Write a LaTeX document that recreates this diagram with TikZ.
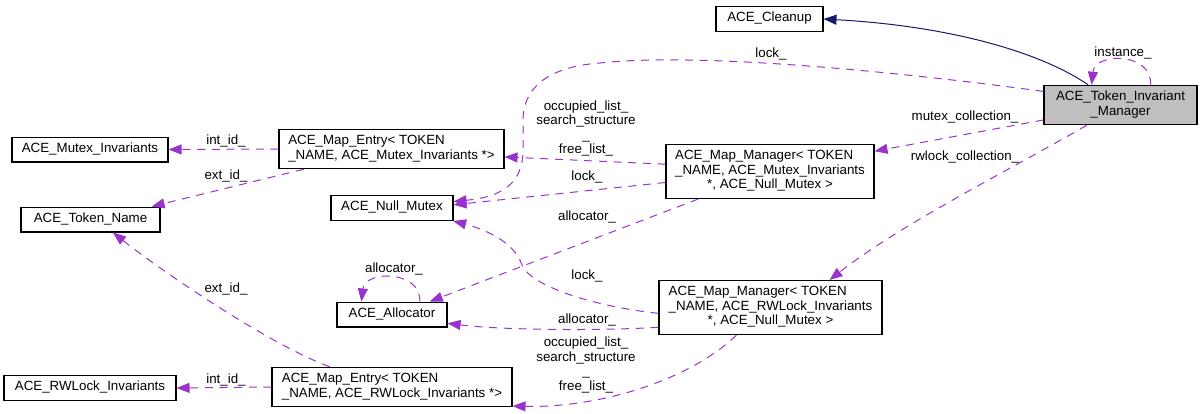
\documentclass[tikz,border=0pt]{standalone}
\usepackage{fontspec}
\setmainfont{Liberation Sans}
\usepackage{tikz}
\usetikzlibrary{arrows.meta}
\definecolor{orchid}{HTML}{9A32CD}
\definecolor{navy}{HTML}{191970}
\definecolor{grey75}{HTML}{BFBFBF}
\newcommand{\cls}[2][l]{\begin{tabular}{@{}#1@{}}#2\end{tabular}}
\newcommand{\lastln}[1]{\multicolumn{1}{@{}c@{}}{#1}}

\begin{document}
\begin{tikzpicture}[x=0.75pt,y=-0.75pt,
    font=\fontsize{10}{10.9}\selectfont,
    classbox/.style={draw=black,line width=0.8pt,fill=white,inner xsep=1pt,inner ysep=3.9pt},
    edgelbl/.style={inner sep=0pt,align=center},
    usedby/.style={color=orchid,line width=0.75pt,dash pattern=on 6pt off 5pt,-{Triangle[length=9.75pt,width=7.5pt]}},
    inherits/.style={color=navy,line width=0.75pt,-{Triangle[length=9.75pt,width=7.5pt]}}]
        \useasboundingbox (0,0) rectangle (1203,414);
        \node[classbox,minimum width=80.25pt] (cln) at (769.5,19) {\cls{ACE\_Cleanup}};
        \node[classbox,fill=grey75,minimum width=114.75pt] (tim) at (1120.5,105) {\cls[c]{ACE\_Token\_Invariant\\\_Manager}};
        \node[classbox,minimum width=117pt] (mutexinv) at (90,149.5) {\cls{ACE\_Mutex\_Invariants}};
        \node[classbox,minimum width=168.75pt] (mutexentry) at (391.5,149) {\cls{ACE\_Map\_Entry< TOKEN\\\_NAME, ACE\_Mutex\_Invariants *>}};
        \node[classbox,minimum width=104.25pt] (tokenname) at (90.5,219.5) {\cls{ACE\_Token\_Name}};
        \node[classbox,minimum width=91.5pt] (nullmutex) at (392,208) {\cls{ACE\_Null\_Mutex}};
        \node[classbox,minimum width=156pt] (mutexmgr) at (770,171.5) {\cls{ACE\_Map\_Manager< TOKEN\\\_NAME, ACE\_Mutex\_Invariants\\\lastln{*, ACE\_Null\_Mutex >}}};
        \node[classbox,minimum width=82.5pt] (allocator) at (392,314.5) {\cls{ACE\_Allocator}};
        \node[classbox,minimum width=167.25pt] (rwlockmgr) at (770.5,307.5) {\cls{ACE\_Map\_Manager< TOKEN\\\_NAME, ACE\_RWLock\_Invariants\\\lastln{*, ACE\_Null\_Mutex >}}};
        \node[classbox,minimum width=129pt] (rwlockinv) at (90,388) {\cls{ACE\_RWLock\_Invariants}};
        \node[classbox,minimum width=180pt] (rwlockentry) at (392,387) {\cls{ACE\_Map\_Entry< TOKEN\\\_NAME, ACE\_RWLock\_Invariants *>}};
        % edge labels
        \node[edgelbl] (lbllock) at (771,54) {lock\_};
        \node[edgelbl] (lblinst) at (1123,53) {instance\_};
        \node[edgelbl] (lblmcoll) at (965,117) {mutex\_collection\_};
        \node[edgelbl] (lblrcoll) at (965,157) {rwlock\_collection\_};
        \node[edgelbl] (lblmfree) at (586,128.5) {occupied\_list\_\\search\_structure\\\_\\free\_list\_};
        \node[edgelbl] (lblmlock) at (587,177) {lock\_};
        \node[edgelbl] (lblmalloc) at (587,217) {allocator\_};
        \node[edgelbl] (lblaself) at (394,269) {allocator\_};
        \node[edgelbl] (lblrlock) at (587,276) {lock\_};
        \node[edgelbl] (lblralloc) at (587,320) {allocator\_};
        \node[edgelbl] (lblrfree) at (586,365) {occupied\_list\_\\search\_structure\\\_\\free\_list\_};
        \node[edgelbl] (lblmint) at (226,141) {int\_id\_};
        \node[edgelbl] (lblmext) at (226,176) {ext\_id\_};
        \node[edgelbl] (lblrext) at (226,289) {ext\_id\_};
        \node[edgelbl] (lblrint) at (226,380) {int\_id\_};
        % connectors
        \draw[inherits] (tim.148) .. controls (1040,52) and (950,26) .. (cln.east);
        \draw[usedby] (tim.34) .. controls (1152,52) and (1095,52) .. (tim.145);
        \draw[usedby] (tim.170) .. controls (900,72) and (700,52) .. (600,63) .. controls (545,67) and (523,90) .. (523,120) -- (523,150) .. controls (523,185) and (500,197) .. (nullmutex.6);
        \draw[usedby] (tim.191) -- (mutexmgr.11);
        \draw[usedby] (tim.211) .. controls (1000,175) and (900,225) .. (rwlockmgr.25);
        \draw[usedby] (mutexmgr.176) -- (mutexentry.-4);
        \draw[usedby] (mutexmgr.186) -- (nullmutex.3);
        \draw[usedby] (mutexmgr.201) -- (allocator.19);
        \draw[usedby] (allocator.25) .. controls (421,270) and (365,270) .. (allocator.157);
        \draw[usedby] (rwlockmgr.183) .. controls (590,306) and (530,285) .. (522,265) .. controls (514,240) and (480,228) .. (nullmutex.-12);
        \draw[usedby] (rwlockmgr.190) .. controls (600,331) and (500,330) .. (allocator.-9);
        \draw[usedby] (rwlockmgr.219) .. controls (690,380) and (600,408) .. (rwlockentry.-9);
        \draw[usedby] (mutexentry.west) -- (mutexinv.east);
        \draw[usedby] (mutexentry.193) -- (tokenname.12);
        \draw[usedby] (rwlockentry.west) -- (rwlockinv.east);
        \draw[usedby] (rwlockentry.162) .. controls (270,345) and (160,270) .. (tokenname.-30);
      \end{tikzpicture}
\end{document}
